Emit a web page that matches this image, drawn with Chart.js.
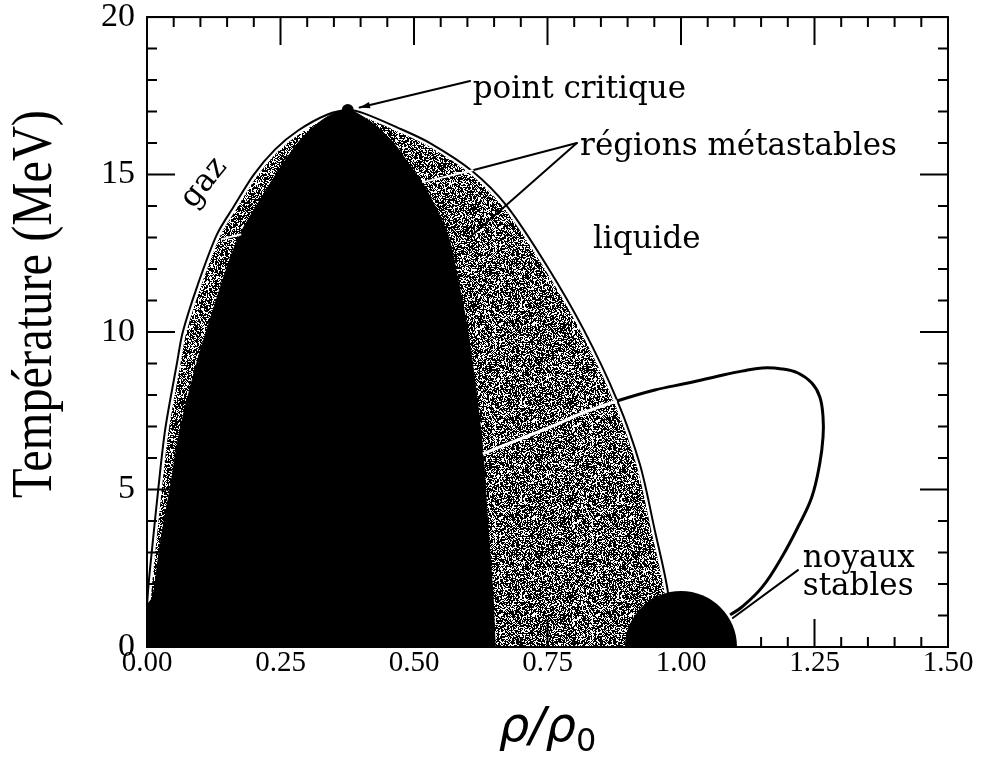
<!DOCTYPE html>
<html lang="fr">
<head>
<meta charset="utf-8">
<title>Diagramme de phase de la matière nucléaire</title>
<script src="https://cdn.jsdelivr.net/npm/chart.js@4.4.1/dist/chart.umd.min.js"></script>
<style>
  html, body { margin: 0; padding: 0; background: #fff; }
  #wrap { width: 985px; height: 773px; }
</style>
</head>
<body>
<div id="wrap"><canvas id="phase" width="985" height="773"></canvas></div>
<script>
// coexistence curve (binodal): rho/rho0 and T in MeV
const binodalRho = [0.000, 0.000, 0.003, 0.010, 0.021, 0.034, 0.056, 0.067, 0.095, 0.131, 0.163, 0.200, 0.240, 0.283, 0.337, 0.376,
                    0.405, 0.468, 0.530, 0.610, 0.674, 0.749, 0.817, 0.880, 0.923, 0.951, 0.975, 0.985];
const binodalT   = [0.0, 1.2, 2.0, 3.2, 5.0, 6.9, 9.0, 10.0, 11.5, 13.1, 14.0, 15.0, 15.8, 16.4, 16.9, 17.05,
                    16.95, 16.5, 16.0, 15.1, 14.0, 12.1, 10.1, 7.85, 5.8, 3.7, 1.8, 0.0];

// spinodal (unstable region)
const spinodalRho = [0.000, 0.000, 0.011, 0.025, 0.043, 0.062, 0.093, 0.112, 0.150, 0.174, 0.212, 0.249, 0.287, 0.318, 0.350, 0.376,
                     0.393, 0.425, 0.462, 0.492, 0.517, 0.545, 0.565, 0.583, 0.600, 0.618, 0.629, 0.639, 0.648, 0.652];
const spinodalT   = [0.0, 1.3, 1.6, 3.3, 5.0, 6.9, 9.0, 10.06, 12.06, 13.1, 14.2, 15.2, 16.1, 16.6, 16.95, 17.05,
                     16.95, 16.6, 16.0, 15.3, 14.7, 13.8, 13.0, 11.6, 10.1, 7.9, 6.2, 3.7, 1.6, 0.0];

// path from the spinodal edge out to the stable nuclei (first 5 points lie in the metastable band)
const pathRho = [0.629, 0.693, 0.755, 0.816, 0.880, 0.951, 1.013, 1.077, 1.114, 1.152, 1.189, 1.219, 1.245, 1.260, 1.266,
                 1.266, 1.260, 1.245, 1.219, 1.189, 1.152, 1.114, 1.092];
const pathT   = [6.13, 6.57, 6.98, 7.43, 7.81, 8.16, 8.38, 8.63, 8.76, 8.86, 8.83, 8.70, 8.38, 7.94, 7.30,
                 6.67, 5.84, 4.76, 3.81, 2.86, 1.90, 1.27, 1.02];
const pathInside = 4;

const criticalRho = [0.376];
const criticalT   = [17.05];
const nucleusRho  = [1.0];
const nucleusT    = [0.0];

const xTickValues = [0, 0.25, 0.5, 0.75, 1.0, 1.25, 1.5];
const xTickLabels = ['0.00', '0.25', '0.50', '0.75', '1.00', '1.25', '1.50'];
const yTickValues = [0, 5, 10, 15, 20];
const yTickLabels = ['0', '5', '10', '15', '20'];

// leader lines, in (rho/rho0, MeV)
const leaderLines = [
  { from: [0.605, 17.97], to: [0.398, 17.13], color: '#000', head: true },
  { from: [0.805, 16.00], to: [0.610, 15.14], color: '#000' },
  { from: [0.610, 15.14], to: [0.517, 14.76], color: '#fff' },
  { from: [0.805, 16.00], to: [0.605, 13.02], color: '#000' },
  { from: [0.140, 12.95], to: [0.175, 13.10], color: '#fff' },
  { from: [1.219, 2.44], to: [1.097, 0.92], color: '#000' }
];

const phaseLabels = [
  { text: 'point critique', at: [0.610, 17.43] },
  { text: 'régions métastables', at: [0.811, 15.62] },
  { text: 'liquide', at: [0.835, 12.67] },
  { text: 'noyaux', at: [1.228, 2.54] },
  { text: 'stables', at: [1.228, 1.65] },
  { text: 'gaz', at: [0.107, 14.73], angle: -51, centered: true }
];

const toPoints = (xs, ys) => xs.map((x, i) => ({ x: x, y: ys[i] }));

// speckled fill for the metastable band
function makeStipple() {
  const size = 97;
  const c = document.createElement('canvas');
  c.width = c.height = size;
  const g = c.getContext('2d');
  const img = g.createImageData(size, size);
  let s = 1234567;
  const rnd = () => {
    s = (s + 0x6D2B79F5) | 0;
    let t = Math.imul(s ^ (s >>> 15), 1 | s);
    t = (t + Math.imul(t ^ (t >>> 7), 61 | t)) ^ t;
    return ((t ^ (t >>> 14)) >>> 0) / 4294967296;
  };
  for (let i = 0; i < size * size; i++) {
    const v = rnd() < 0.38 ? 255 : 0;
    img.data[i * 4] = img.data[i * 4 + 1] = img.data[i * 4 + 2] = v;
    img.data[i * 4 + 3] = 255;
  }
  g.putImageData(img, 0, 0);
  return g.createPattern(c, 'repeat');
}

const phaseNotes = {
  id: 'phaseNotes',
  afterDatasetsDraw(chart) {
    const { ctx, scales: { x, y } } = chart;
    const px = v => x.getPixelForValue(v);
    const py = v => y.getPixelForValue(v);
    ctx.save();
    ctx.lineWidth = 2;
    ctx.lineCap = 'round';
    leaderLines.forEach(l => {
      const x0 = px(l.from[0]), y0 = py(l.from[1]);
      const x1 = px(l.to[0]), y1 = py(l.to[1]);
      ctx.strokeStyle = l.color;
      ctx.beginPath();
      ctx.moveTo(x0, y0);
      ctx.lineTo(x1, y1);
      ctx.stroke();
      if (l.head) {
        const a = Math.atan2(y1 - y0, x1 - x0);
        ctx.fillStyle = l.color;
        ctx.beginPath();
        ctx.moveTo(x1, y1);
        ctx.lineTo(x1 - 11 * Math.cos(a - 0.3), y1 - 11 * Math.sin(a - 0.3));
        ctx.lineTo(x1 - 11 * Math.cos(a + 0.3), y1 - 11 * Math.sin(a + 0.3));
        ctx.closePath();
        ctx.fill();
      }
    });

    ctx.fillStyle = '#000';
    ctx.font = '31px "DejaVu Serif"';
    phaseLabels.forEach(l => {
      ctx.save();
      ctx.translate(px(l.at[0]), py(l.at[1]));
      if (l.angle) ctx.rotate(l.angle * Math.PI / 180);
      ctx.textAlign = l.centered ? 'center' : 'left';
      ctx.textBaseline = l.centered ? 'middle' : 'alphabetic';
      ctx.fillText(l.text, 0, 0);
      ctx.restore();
    });
    ctx.restore();
  },
  afterDraw(chart) {
    const { ctx, chartArea: a, scales: { x, y } } = chart;
    ctx.save();
    ctx.strokeStyle = '#000';
    ctx.lineWidth = 2;
    ctx.strokeRect(a.left, a.top, a.right - a.left, a.bottom - a.top);

    // inward ticks on all four sides
    ctx.beginPath();
    for (let i = 0; i <= 30; i++) {
      const p = x.getPixelForValue(i * 0.05);
      const len = i % 5 === 0 ? 28 : 10;
      ctx.moveTo(p, a.bottom); ctx.lineTo(p, a.bottom - len);
      ctx.moveTo(p, a.top); ctx.lineTo(p, a.top + len);
    }
    for (let i = 0; i <= 20; i++) {
      const p = y.getPixelForValue(i);
      const len = i % 5 === 0 ? 28 : 10;
      ctx.moveTo(a.left, p); ctx.lineTo(a.left + len, p);
      ctx.moveTo(a.right, p); ctx.lineTo(a.right - len, p);
    }
    ctx.stroke();

    // axis titles
    ctx.fillStyle = '#000';
    ctx.save();
    ctx.translate(36, 304);
    ctx.rotate(-Math.PI / 2);
    ctx.font = '58px "Liberation Serif"';
    const yTitle = 'Température (MeV)';
    const squeeze = 388 / ctx.measureText(yTitle).width;
    ctx.scale(squeeze, 1);
    ctx.textAlign = 'center';
    ctx.textBaseline = 'middle';
    ctx.fillText(yTitle, 0, 0);
    ctx.restore();

    const big = 'italic 48px "DejaVu Sans"';
    const sub = '32px "DejaVu Sans"';
    ctx.font = big;
    const w1 = ctx.measureText('ρ/ρ').width;
    ctx.font = sub;
    const w2 = ctx.measureText('0').width;
    const left = (a.left + a.right) / 2 - (w1 + w2) / 2;
    const base = a.bottom + 94;
    ctx.textAlign = 'left';
    ctx.textBaseline = 'alphabetic';
    ctx.font = big;
    ctx.fillText('ρ/ρ', left, base);
    ctx.font = sub;
    ctx.fillText('0', left + w1, base + 10);
    ctx.restore();
  }
};

const stipple = makeStipple();

new Chart(document.getElementById('phase'), {
  type: 'scatter',
  data: {
    datasets: [
      {
        label: 'point critique',
        data: toPoints(criticalRho, criticalT),
        pointRadius: 6, backgroundColor: '#000', borderWidth: 0,
        order: 0
      },
      {
        label: 'noyaux stables',
        data: toPoints(nucleusRho, nucleusT),
        pointRadius: 56, backgroundColor: '#000', borderWidth: 0,
        clip: 0,
        order: 1
      },
      {
        label: 'trajectoire',
        data: toPoints(pathRho, pathT),
        showLine: true, pointRadius: 0, borderWidth: 3, tension: 0.4,
        borderColor: '#000',
        segment: { borderColor: c => (c.p1DataIndex <= pathInside ? '#fff' : '#000') },
        order: 2
      },
      {
        label: 'spinodale',
        data: toPoints(spinodalRho, spinodalT),
        showLine: true, pointRadius: 0, borderWidth: 1, tension: 0.3,
        borderColor: '#000', backgroundColor: '#000', fill: 'shape',
        order: 3
      },
      {
        label: 'binodale',
        data: toPoints(binodalRho, binodalT),
        showLine: true, pointRadius: 0, borderWidth: 2, tension: 0.3,
        borderColor: '#000',
        order: 4
      },
      {
        label: 'zone métastable',
        data: toPoints(binodalRho, binodalT),
        showLine: true, pointRadius: 0, borderWidth: 7, tension: 0.3,
        borderColor: '#fff', backgroundColor: stipple, fill: 'shape',
        order: 5
      }
    ]
  },
  options: {
    responsive: false,
    animation: false,
    events: [],
    layout: { autoPadding: false, padding: { top: 17, right: 37, left: 0, bottom: 0 } },
    plugins: { legend: { display: false }, tooltip: { enabled: false } },
    scales: {
      x: {
        type: 'linear', min: 0, max: 1.5,
        grid: { display: false, drawTicks: false },
        border: { display: false },
        afterBuildTicks: s => { s.ticks = xTickValues.map(v => ({ value: v })); },
        afterFit: s => { s.height = 126; },
        ticks: {
          autoSkip: false, maxRotation: 0, padding: 2, color: '#000',
          font: { family: 'Liberation Serif', size: 29, lineHeight: 1 },
          callback: (v, i) => xTickLabels[i]
        }
      },
      y: {
        type: 'linear', min: 0, max: 20,
        grid: { display: false, drawTicks: false },
        border: { display: false },
        afterBuildTicks: s => { s.ticks = yTickValues.map(v => ({ value: v })); },
        afterFit: s => { s.width = 147; },
        ticks: {
          autoSkip: false, padding: 12, color: '#000',
          font: { family: 'Liberation Serif', size: 34, lineHeight: 0.3 },
          callback: (v, i) => yTickLabels[i]
        }
      }
    }
  },
  plugins: [phaseNotes]
});
</script>
</body>
</html>
